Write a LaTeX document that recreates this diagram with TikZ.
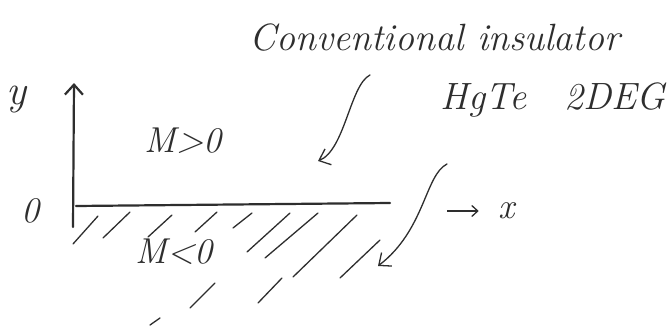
\documentclass[tikz,border=0pt]{standalone}
\usepackage{tikz}
\usetikzlibrary{positioning, calc, arrows.meta}
\definecolor{ink}{HTML}{2E2E2E}
\definecolor{paper}{HTML}{FFFFFF}
\newcommand{\HandF}{\fontsize{36}{42}\selectfont\itshape}
\newcommand{\BigHandF}{\fontsize{38}{44}\selectfont\itshape}
\newcommand{\hatchline}[4]{%
  \draw[ink, line width=1.3pt, line cap=round] (#1,#2) -- (#3,#4);
}
\tikzset{
  hand/.style={text=ink, inner sep=0pt},
  axisline/.style={ink, line width=2.2pt, line cap=round},
  pointer/.style={ink, line width=1.3pt, line cap=round,
    -{Straight Barb[length=10pt, width=17pt]}},
}

\begin{document}
\begin{tikzpicture}[x=1pt, y=-1pt]
\useasboundingbox[fill=paper] (0,0) rectangle (671,329);
% labels
\node[hand, font=\BigHandF] (title) at (435,38) {Conventional insulator};
\node[hand, font=\BigHandF] (hgte) at (553,100) {HgTe\quad 2DEG};
\node[hand, font=\HandF] (mpos) at (183,141) {M>0};
\node[hand, font=\HandF] (mneg) at (174,252) {M<0};
\node[hand, font=\fontsize{42}{48}\selectfont\itshape] (ylab) at (16,100) {y};
\node[hand, font=\HandF] (orig) at (30,211) {0};
\node[hand, font=\HandF] (xlab) at (507,211) {x};
% axes
\coordinate (o) at (73,227);
\coordinate (ytop) at (74,83);
\coordinate (xstart) at (76,206);
\coordinate (xend) at (390,203);
\draw[axisline, -{Straight Barb[length=10pt, width=18pt]}] (o) -- (ytop);
\draw[axisline] (xstart) -- (xend);
\coordinate (xarr) at (447,211);
\draw[ink, line width=1.3pt, shorten >=20pt,
  -{Straight Barb[length=6pt, width=11pt]}] (xarr) -- (xlab.west);
% pointers
\coordinate (p1) at (370,75);
\coordinate (q1) at (318,161);
\draw[pointer] (p1) .. controls (350,85) and (345,150) .. (q1);
\coordinate (p2) at (447,164);
\coordinate (q2) at (378,266);
\draw[pointer] (p2) .. controls (425,175) and (425,230) .. (q2);
% hatching of the M<0 half
\hatchline{73}{244}{98}{216}
\hatchline{103}{238}{130}{212}
\hatchline{148}{237}{172}{215}
\hatchline{195}{232}{217}{212}
\hatchline{233}{228}{252}{213}
\hatchline{247}{252}{290}{213}
\hatchline{265}{258}{318}{213}
\hatchline{293}{277}{357}{215}
\hatchline{340}{278}{380}{240}
\hatchline{190}{308}{215}{283}
\hatchline{258}{303}{282}{278}
\hatchline{150}{325}{160}{318}
\end{tikzpicture}
\end{document}
